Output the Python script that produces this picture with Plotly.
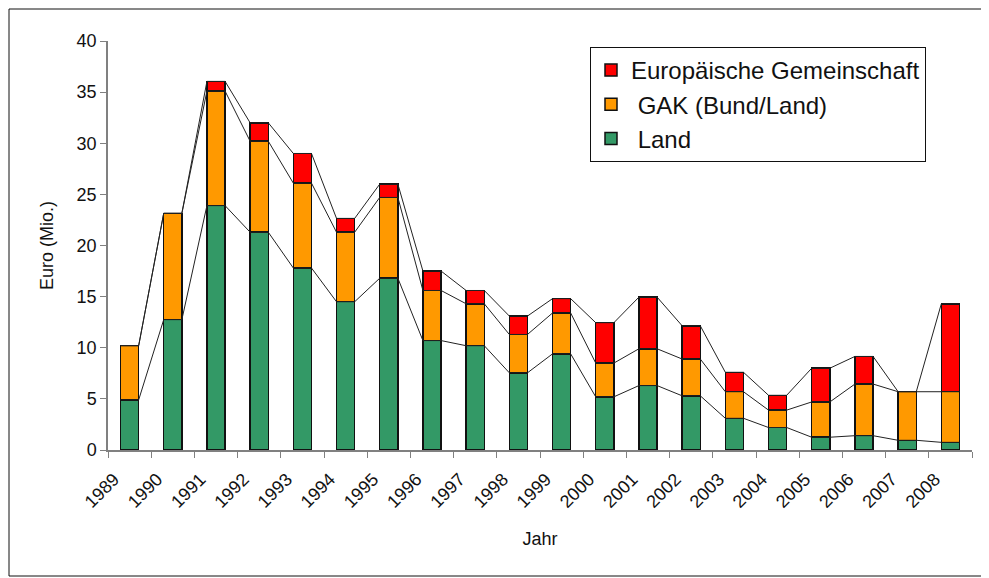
import plotly.graph_objects as go

# Fördermittel je Jahr, Euro (Mio.)
years = list(range(1989, 2009))
land = [4.9, 12.75, 23.9, 21.3, 17.8, 14.5, 16.8, 10.7, 10.2, 7.55,
        9.4, 5.2, 6.3, 5.3, 3.1, 2.2, 1.25, 1.4, 0.95, 0.75]
gak = [5.3, 10.4, 11.2, 8.9, 8.3, 6.8, 7.9, 4.9, 4.1, 3.75,
       4.0, 3.3, 3.6, 3.6, 2.6, 1.7, 3.45, 5.05, 4.75, 4.95]
eu = [0.0, 0.0, 0.95, 1.8, 2.9, 1.35, 1.3, 1.9, 1.3, 1.8,
      1.4, 3.95, 5.05, 3.25, 1.9, 1.45, 3.3, 2.7, 0.0, 8.6]

series = [
    (" Land", land, "#339966"),
    (" GAK (Bund/Land)", gak, "#FF9900"),
    ("Europäische Gemeinschaft", eu, "#FF0000"),
]

BAR_W = 0.42
FONT = "Liberation Sans, Arial, sans-serif"
# page body has an 8px margin, so the figure is a bit smaller than the window
W, H = 981, 570

fig = go.Figure()

for name, vals, color in series:
    fig.add_trace(go.Bar(
        x=years, y=vals, name=name, width=BAR_W,
        marker=dict(color=color, line=dict(color="#111", width=1.5)),
    ))

# Excel-style series lines connecting the stacked tops
cum = [0.0] * len(years)
for name, vals, color in series:
    cum = [c + v for c, v in zip(cum, vals)]
    lx, ly = [], []
    for yr, c in zip(years, cum):
        lx += [yr - BAR_W / 2, yr + BAR_W / 2]
        ly += [c, c]
    fig.add_trace(go.Scatter(
        x=lx, y=ly, mode="lines", showlegend=False, hoverinfo="skip",
        line=dict(color="#222", width=1),
    ))

ml, mr, mt, mb = 100, 17, 33, 128
pw, ph = W - ml - mr, H - mt - mb

fig.update_layout(
    barmode="stack",
    width=W, height=H,
    margin=dict(l=ml, r=mr, t=mt, b=mb),
    paper_bgcolor="white", plot_bgcolor="white",
    font=dict(family=FONT, color="#111", size=18),
    xaxis=dict(
        range=[years[0] - 0.5, years[-1] + 0.5],
        tickmode="array",
        tickvals=[y - 0.36 for y in years],
        ticktext=[str(y) for y in years],
        tickangle=-45, ticks="", ticklabelstandoff=10,
        minor=dict(tickmode="array",
                   tickvals=[y - 0.5 for y in years] + [years[-1] + 0.5],
                   ticks="outside", ticklen=6, tickcolor="#808080"),
        showline=True, linecolor="#808080", linewidth=1.5,
        showgrid=False, zeroline=False,
        title=dict(text="Jahr", font=dict(size=18), standoff=22),
    ),
    yaxis=dict(
        range=[0, 40], dtick=5,
        ticks="outside", ticklen=6, tickcolor="#808080",
        showline=True, linecolor="#808080", linewidth=1.5,
        showgrid=False, zeroline=False,
        title=dict(text="Euro (Mio.)", font=dict(size=18), standoff=18),
    ),
    legend=dict(
        x=(582 - ml) / pw, y=1 - (39 - mt) / ph, xanchor="left", yanchor="top",
        traceorder="reversed",
        bordercolor="#111", borderwidth=1, bgcolor="white",
        font=dict(size=24),
    ),
    showlegend=True,
    bargap=0.5,
)

# chart area frame
fig.add_shape(type="rect", xref="paper", yref="paper",
              x0=-(ml - 1) / pw, x1=1 + (mr - 2) / pw,
              y0=-(mb - 2) / ph, y1=1 + (mt - 1) / ph,
              line=dict(color="#111", width=1))

fig.write_html("out.html")
